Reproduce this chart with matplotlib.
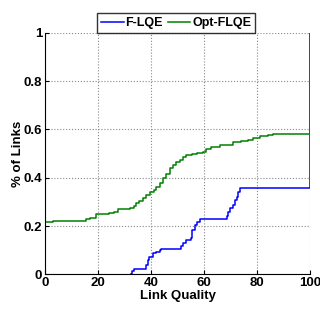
import numpy as np
import matplotlib.pyplot as plt

# link quality (x) and cumulative fraction of links (y)
flqe_x = [32.5, 33.0, 33.7, 38.1, 38.7, 39.4, 40.6, 41.9, 43.2, 43.8, 51.0, 51.4, 52.0, 53.3,
          55.2, 55.6, 56.5, 57.3, 58.3, 68.0, 68.5, 69.1, 69.7, 71.0, 71.6, 72.4, 72.9, 73.5, 100.0, 100.0]
flqe_y = [0.0, 0.014, 0.021, 0.038, 0.059, 0.07, 0.089, 0.094, 0.10, 0.103, 0.103, 0.117, 0.128, 0.142,
          0.149, 0.183, 0.204, 0.218, 0.228, 0.228, 0.241, 0.259, 0.273, 0.287, 0.308, 0.321, 0.342, 0.356, 0.356, 1.0]

opt_x = [0, 3, 15.5, 17, 19.3, 21, 24.3, 26, 27.5, 30, 31.9, 33.5, 34.4, 35.5, 37, 38.2, 39.5, 41,
         42, 43.2, 44.5, 45.5, 47, 48.3, 49.6, 51, 52, 53.3, 55.5, 57.5, 59.6, 60.9, 62.5, 66, 71,
         74, 76.5, 78.6, 81, 84, 86.1, 100, 100]
opt_y = [0.216, 0.22, 0.228, 0.235, 0.248, 0.25, 0.254, 0.26, 0.269, 0.272, 0.273, 0.283, 0.294, 0.305,
         0.315, 0.329, 0.34, 0.35, 0.363, 0.38, 0.397, 0.415, 0.439, 0.452, 0.466, 0.475, 0.485, 0.494,
         0.50, 0.503, 0.508, 0.52, 0.528, 0.535, 0.549, 0.552, 0.558, 0.563, 0.572, 0.578, 0.581, 0.581, 1.0]

plt.rcParams['font.family'] = ['Liberation Sans', 'DejaVu Sans']
plt.rcParams['font.weight'] = 'bold'

fig = plt.figure(figsize=(3.2, 3.11), dpi=100)
ax = fig.add_axes([0.1406, 0.118, 0.8284, 0.7765])

ax.plot(flqe_x, flqe_y, color='#0000ff', lw=1.1, drawstyle='steps-post', label='F-LQE')
ax.plot(opt_x, opt_y, color='#008000', lw=1.1, drawstyle='steps-post', label='Opt-FLQE')

ax.set_xlim(0, 100)
ax.set_ylim(0, 1)
ax.set_xticks([0, 20, 40, 60, 80, 100])
ax.set_yticks([0, 0.2, 0.4, 0.6, 0.8, 1])
ax.set_yticklabels(['0', '0.2', '0.4', '0.6', '0.8', '1'])
ax.tick_params(direction='in', length=3, labelsize=9.5, pad=2)
for s in ['top', 'right']:
    ax.spines[s].set_visible(False)
ax.grid(True, linestyle=':', color='#888888', lw=0.8)

ax.set_xlabel('Link Quality', fontsize=9.5, fontweight='bold', labelpad=1)
ax.set_ylabel('% of Links', fontsize=9.5, fontweight='bold', labelpad=0)

ax.legend(loc='lower center', bbox_to_anchor=(0.495, 0.995), ncol=2, fontsize=9,
          frameon=True, fancybox=False, edgecolor='black', handlelength=1.8,
          handletextpad=0.15, columnspacing=0.4, borderpad=0.3, borderaxespad=0.1)

fig.savefig('out.png', dpi=100)
